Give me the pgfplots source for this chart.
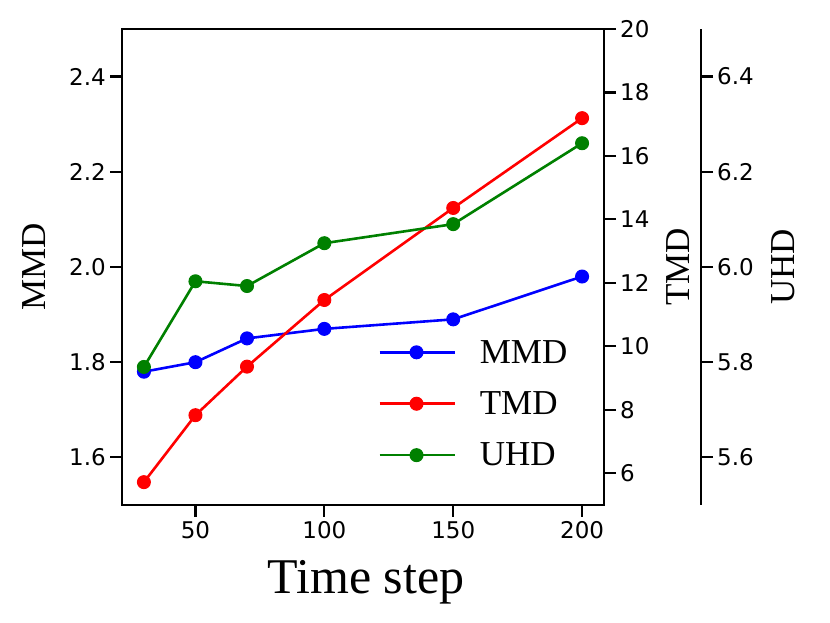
\documentclass[border=0pt]{standalone}
\usepackage{pgfplots}
\pgfplotsset{compat=1.18}
\usepackage{fontspec}
\setmainfont{Liberation Serif}
\newfontfamily\dejavu{DejaVu Sans}
\definecolor{mblue}{RGB}{0,0,255}
\definecolor{mred}{RGB}{255,0,0}
\definecolor{mgreen}{RGB}{0,128,0}
\pgfplotsset{
  base/.style={
    scale only axis,
    at={(122pt,118pt)}, anchor=south west,
    height=476pt,
    axis line style={line width=1.3pt, black},
    tick align=outside,
    major tick length=12pt,
    every tick/.style={line width=2.2pt, black},
    ticklabel style={font=\dejavu\fontsize{23}{27}\selectfont, inner sep=4pt},
    /pgf/number format/assume math mode=true,
  },
  mline/.style={line width=2.6pt, mark=*, mark size=6.5pt, mark options={solid, line width=1pt}},
}
\begin{document}
\begin{tikzpicture}
\useasboundingbox (0,0) rectangle (830pt,623pt);
% MMD axis
\begin{axis}[base,
  width=482pt,
  xmin=21.5, xmax=208.5,
  ymin=1.5, ymax=2.5,
  xtick={50,100,150,200},
  ytick={1.6,1.8,2.0,2.2,2.4},
  xtick pos=left, ytick pos=left,
  yticklabel style={/pgf/number format/.cd, fixed, fixed zerofill, precision=1},
  xlabel={Time step}, ylabel={MMD},
  every axis x label/.style={at={(axis description cs:0.506,-0.185)}, anchor=base, font=\fontsize{50}{56}\selectfont},
  every axis y label/.style={at={(axis description cs:-0.158,0.5)}, rotate=90, anchor=base, font=\fontsize{35}{40}\selectfont},
]
\addplot[mline, color=mblue] coordinates {(30,1.78) (50,1.80) (70,1.85) (100,1.87) (150,1.89) (200,1.98)};
\end{axis}
% TMD axis
\begin{axis}[base,
  width=482pt,
  xmin=21.5, xmax=208.5,
  ymin=5, ymax=20,
  hide x axis,
  axis y line*=right,
  ytick={6,8,10,12,14,16,18,20},
  ylabel={TMD},
  every axis y label/.style={at={(axis description cs:1.178,0.5)}, rotate=90, anchor=base, font=\fontsize{35}{40}\selectfont},
]
\addplot[mline, color=mred] coordinates {(30,5.72) (50,7.83) (70,9.36) (100,11.46) (150,14.36) (200,17.19)};
\end{axis}
% UHD axis
\begin{axis}[base,
  width=579pt,
  xmin=21.5, xmax=246.14,
  ymin=5.5, ymax=6.5,
  hide x axis,
  axis y line*=right,
  ytick={5.6,5.8,6.0,6.2,6.4},
  yticklabel style={/pgf/number format/.cd, fixed, fixed zerofill, precision=1},
  ylabel={UHD},
  every axis y label/.style={at={(axis description cs:1.162,0.5)}, rotate=90, anchor=base, font=\fontsize{35}{40}\selectfont},
  legend style={at={(axis description cs:0.437,0.351)}, anchor=north west, draw=none, fill=none,
    font=\fontsize{35}{40}\selectfont, row sep=27pt, column sep=22pt,
    nodes={inner xsep=2pt, inner ysep=0pt}},
  legend cell align=left,
  legend image code/.code={\draw[#1, line width=2.6pt, mark repeat=2, mark phase=2] plot coordinates {(0pt,0pt) (37pt,0pt) (75pt,0pt)};},
]
\addlegendimage{mline, color=mblue}
\addlegendentry{MMD}
\addlegendimage{mline, color=mred}
\addlegendentry{TMD}
\addplot[mline, color=mgreen] coordinates {(30,5.79) (50,5.97) (70,5.96) (100,6.05) (150,6.09) (200,6.26)};
\addlegendentry{UHD}
\end{axis}
\end{tikzpicture}
\end{document}
